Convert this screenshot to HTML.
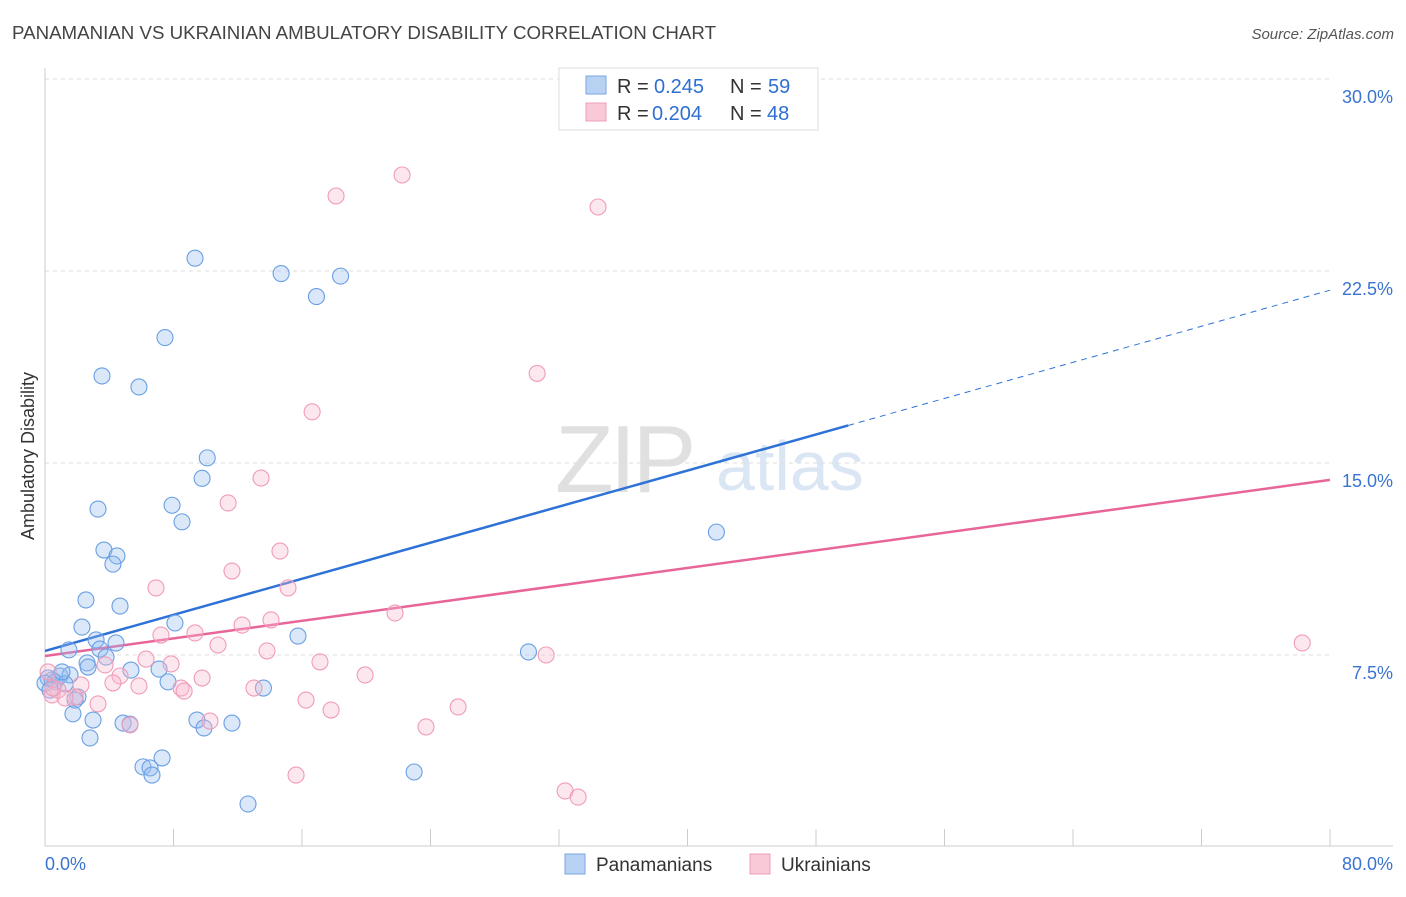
<!DOCTYPE html>
<html><head><meta charset="utf-8"><style>
body{margin:0;background:#fff;font-family:"Liberation Sans",sans-serif}
svg text{font-family:"Liberation Sans",sans-serif}
</style></head><body>
<svg id="chart" width="1406" height="892" xmlns="http://www.w3.org/2000/svg">
<text x="12" y="39" font-size="18" fill="#444" textLength="704" lengthAdjust="spacingAndGlyphs">PANAMANIAN VS UKRAINIAN AMBULATORY DISABILITY CORRELATION CHART</text>
<text x="1394" y="39" font-size="15" fill="#555" text-anchor="end" font-style="italic">Source: ZipAtlas.com</text>
<text transform="translate(34,456) rotate(-90)" font-size="18" fill="#333" text-anchor="middle">Ambulatory Disability</text>
<g>
<text x="555" y="492" font-size="96" fill="#e0e0e0" font-family="Liberation Serif" letter-spacing="-4">ZIP</text>
<text x="716" y="490" font-size="70" fill="#dae6f4">atlas</text>
</g>
<g id="grid"></g><g id="axes"></g><g id="lines"></g><g id="pts"></g>
<g>
<rect x="559" y="68" width="259" height="62" fill="#fff" stroke="#ddd"/>
<rect x="586" y="76" width="20" height="18" fill="#b8d2f4" stroke="#7aa6e0"/>
<text x="617" y="93" font-size="20" fill="#333">R =</text>
<text x="654" y="93" font-size="20" fill="#2e6fd0">0.245</text>
<text x="730" y="93" font-size="20" fill="#333">N =</text>
<text x="768" y="93" font-size="20" fill="#2e6fd0">59</text>
<rect x="586" y="103" width="20" height="18" fill="#f9c9d8" stroke="#ee9fb9"/>
<text x="617" y="120" font-size="20" fill="#333">R =</text>
<text x="652" y="120" font-size="20" fill="#2e6fd0">0.204</text>
<text x="730" y="120" font-size="20" fill="#333">N =</text>
<text x="767" y="120" font-size="20" fill="#2e6fd0">48</text>
</g>
<g>
<rect x="565" y="854" width="20" height="20" fill="#b8d2f4" stroke="#7aa6e0"/>
<text x="596" y="871" font-size="19" fill="#333">Panamanians</text>
<rect x="750" y="854" width="20" height="20" fill="#f9c9d8" stroke="#ee9fb9"/>
<text x="781" y="871" font-size="19" fill="#333">Ukrainians</text>
</g>
</svg>
<script>
const yTicks=[7.5,15,22.5,30];
const yTickLabels=["7.5%","15.0%","22.5%","30.0%"];
const xTickLabels=["0.0%","80.0%"];
const blueX=[9.34,14.7,18.4,16.9,7.47,3.55,5.85,10.1,9.78,7.91,3.3,8.53,41.8,3.67,4.48,4.23,2.55,4.67,8.09,2.3,3.18,4.42,15.75,1.49,3.42,3.8,2.62,5.35,7.1,30.1,0.93,0.44,1.56,0.19,0.62,1.25,7.66,13.6,2.05,1.87,1.74,2.99,9.46,4.86,5.29,11.64,9.9,2.8,7.29,6.1,6.54,6.66,22.98,12.64,0,1.06,0.31,2.68];
const blueY=[23.0,22.4,22.3,21.5,19.9,18.4,17.97,15.2,14.4,13.35,13.2,12.7,12.3,11.6,11.37,11.05,9.65,9.41,8.75,8.59,8.09,7.97,8.24,7.7,7.73,7.42,7.19,6.91,6.95,7.62,6.68,6.52,6.72,6.6,6.45,6.37,6.45,6.21,5.86,5.74,5.2,4.96,4.96,4.84,4.8,4.84,4.65,4.26,3.48,3.13,3.09,2.81,2.93,1.68,6.4,6.84,6.13,7.03];
const pinkX=[22.23,18.12,34.43,30.64,16.63,13.45,11.4,11.64,14.63,6.91,15.13,21.79,14.07,12.27,7.22,9.34,10.77,6.29,7.85,13.82,31.2,17.12,78.27,0.19,19.93,9.78,4.67,4.23,2.24,5.85,8.47,8.66,13.01,0.81,0.44,1.87,1.25,16.25,3.3,10.27,17.81,25.72,23.72,5.29,15.63,32.38,33.19,3.74,0.5];
const pinkY=[26.25,25.43,25.0,18.5,17.0,14.41,13.44,10.78,11.56,10.12,10.12,9.14,8.87,8.67,8.28,8.36,7.89,7.34,7.15,7.66,7.5,7.23,7.97,6.84,6.72,6.6,6.68,6.41,6.33,6.29,6.21,6.09,6.21,6.13,5.94,5.86,5.82,5.74,5.59,4.92,5.35,5.47,4.69,4.77,2.81,2.19,1.95,7.11,6.21];
const blueTrend=[7.66,21.75];
const pinkTrend=[7.46,14.34];
const NS="http://www.w3.org/2000/svg";
const sx=v=>45+v*(1285/80);
const sy=v=>847-v*25.6;
function mk(tag,attrs,parent){const e=document.createElementNS(NS,tag);for(const k in attrs)e.setAttribute(k,attrs[k]);document.getElementById(parent).appendChild(e);return e;}
yTicks.forEach((t,i)=>{
 const g=mk('line',{x1:45,x2:1330,y1:sy(t),y2:sy(t),stroke:'#ddd','stroke-dasharray':'4,4'},'grid');
 
 
 const l=mk('text',{x:1393,y:sy(t)+24,'font-size':18,fill:'#3a74d0','text-anchor':'end'},'axes');
 l.textContent=yTickLabels[i];
 
 
});
const ax=mk('line',{x1:45,x2:1393,y1:846,y2:846,stroke:'#ccc'},'axes');


const ay=mk('line',{x1:45,x2:45,y1:68,y2:846,stroke:'#ccc'},'axes');


for(let i=0;i<=10;i++){
 const t=mk('line',{x1:sx(i*8),x2:sx(i*8),y1:829,y2:846,stroke:'#ccc'},'axes');
 
 
}
[[0,'start',45],[80,'end',1393]].forEach((d,i)=>{
 const t=mk('text',{x:d[2],y:870,'font-size':18,fill:'#3a74d0','text-anchor':d[1]},'axes');
 t.textContent=xTickLabels[i];
 
 
});
const bAt=x=>blueTrend[0]+(blueTrend[1]-blueTrend[0])*x/80;
const pAt=x=>pinkTrend[0]+(pinkTrend[1]-pinkTrend[0])*x/80;
const bs=mk('line',{x1:sx(0),y1:sy(bAt(0)),x2:sx(50),y2:sy(bAt(50)),stroke:'#2e72d8','stroke-width':2.5},'lines');


const bd=mk('line',{x1:sx(50),y1:sy(bAt(50)),x2:sx(80),y2:sy(bAt(80)),stroke:'#2e72d8','stroke-width':1,'stroke-dasharray':'6,5'},'lines');


const pl=mk('line',{x1:sx(0),y1:sy(pAt(0)),x2:sx(80),y2:sy(pAt(80)),stroke:'#e8659a','stroke-width':2.5},'lines');


blueX.forEach((x,i)=>{
 const c=mk('circle',{cx:sx(x),cy:sy(blueY[i]),r:8,fill:'rgba(150,190,240,0.35)',stroke:'#6a9fe2','stroke-width':1.1},'pts');
 
 
});
pinkX.forEach((x,i)=>{
 const c=mk('circle',{cx:sx(x),cy:sy(pinkY[i]),r:8,fill:'rgba(248,185,205,0.35)',stroke:'#f09bb8','stroke-width':1.1},'pts');
 
 
});
</script>
</body></html>
